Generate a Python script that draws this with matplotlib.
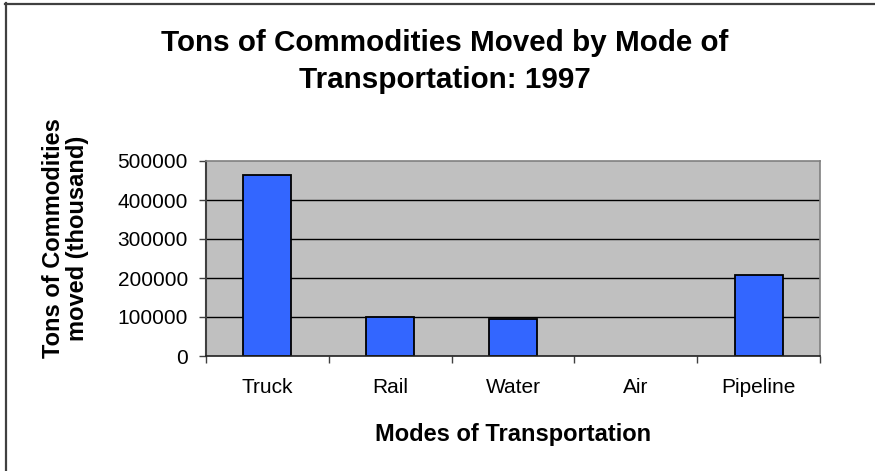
import matplotlib
matplotlib.use("Agg")
import matplotlib.pyplot as plt
from matplotlib.lines import Line2D
import numpy as np

categories = ["Truck", "Rail", "Water", "Air", "Pipeline"]
values = [463000, 101000, 95000, 0, 207000]
yticks = [0, 100000, 200000, 300000, 400000, 500000]

plt.rcParams['font.family'] = ['Liberation Sans', 'DejaVu Sans']

W, H = 875, 471
fig = plt.figure(figsize=(W / 100, H / 100), dpi=100)
fig.patch.set_facecolor("white")

L, R, T, B = 206, 820, 161, 356
ax = fig.add_axes([L / W, 1 - B / H, (R - L) / W, (B - T) / H])
ax.set_facecolor("#C0C0C0")

x = np.arange(len(categories))
edge_w = [1.3 if v > 0 else 0.0 for v in values]
ax.bar(x, values, width=0.39, color="#3366FF", edgecolor="black", linewidth=edge_w, zorder=2)

ax.set_xlim(-0.5, len(categories) - 0.5)
ax.set_ylim(0, 500000)
ax.set_yticks(yticks)
ax.set_yticklabels([str(v) for v in yticks], fontsize=15)
for v in yticks[1:-1]:
    ax.axhline(v, color="black", linewidth=1.0, zorder=1)

# x ticks at category boundaries, labels at centers
ax.set_xticks(np.arange(-0.5, len(categories), 1.0))
ax.set_xticklabels([])
ax.set_xticks(x, minor=True)
ax.set_xticklabels(categories, minor=True, fontsize=15)
ax.tick_params(axis="x", which="minor", length=0, pad=15.5)
ax.tick_params(axis="x", which="major", length=5, width=1, color="#404040", direction="out")
ax.tick_params(axis="y", length=5, width=1, color="#404040", direction="out", pad=8)

for s in ["top", "right"]:
    ax.spines[s].set_color("#808080")
    ax.spines[s].set_linewidth(1.2)
ax.spines["left"].set_color("#404040")
ax.spines["left"].set_linewidth(1.5)
ax.spines["bottom"].set_color("#202020")
ax.spines["bottom"].set_linewidth(1.2)
for s in ax.spines.values():
    s.set_zorder(3)

# Title
fig.text(445 / W, 1 - 61.5 / H, "Tons of Commodities Moved by Mode of\nTransportation: 1997",
         ha="center", va="center", fontsize=21.3, fontweight="bold", linespacing=1.42)

# Axis labels
fig.text(513 / W, 1 - 435 / H, "Modes of Transportation", ha="center", va="center",
         fontsize=17, fontweight="bold")
fig.text(65.5 / W, 1 - 238 / H, "Tons of Commodities\nmoved (thousand)", ha="center", va="center",
         rotation=90, fontsize=17, fontweight="bold", linespacing=1.05, multialignment="center")

# Outer frame (top and left visible)
fig.add_artist(Line2D([5 / W, 1.0], [1 - 3.5 / H, 1 - 3.5 / H], color="#404040", linewidth=1.6,
                      transform=fig.transFigure))
fig.add_artist(Line2D([5.5 / W, 5.5 / W], [0.0, 1 - 3 / H], color="#404040", linewidth=1.6,
                      transform=fig.transFigure))

fig.savefig("out.png", dpi=100)
